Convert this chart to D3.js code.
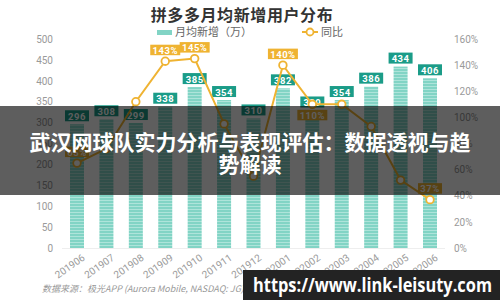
<!DOCTYPE html>
<html>
<head>
<meta charset="utf-8">
<script src="https://cdn.jsdelivr.net/npm/d3@7"></script>
<style>
  body { margin: 0; background: #fff; }
  svg { display: block; font-family: "Noto Sans CJK SC", "Noto Sans", sans-serif; }
</style>
</head>
<body>
<script>
// chart data
var months = ["201906","201907","201908","201909","201910","201911","201912","202001","202002","202003","202004","202005","202006"];
var newUsers = [296, 308, 299, 338, 385, 354, 310, 382, 329, 354, 386, 434, 406];
var yoy = [65, 76, 112, 143, 145, 95, 55, 140, 110, 110, 93, 52, 37];
var yoyShown = ["201906","201909","201910","202001","202002","202006"];
var leftTicks = [0, 50, 100, 150, 200, 250, 300, 350, 400, 450, 500];
var rightTicks = [0, 20, 40, 60, 80, 100, 120, 140, 160];

var W = 500, H = 300;
var teal = "#1b9c88", gold = "#efb332";

var svg = d3.select("body").append("svg")
    .attr("width", W)
    .attr("height", H);

// stripey bar fill
var defs = svg.append("defs");
var pat = defs.append("pattern")
    .attr("id", "stripes")
    .attr("patternUnits", "userSpaceOnUse")
    .attr("width", 4).attr("height", 3);
pat.append("rect").attr("width", 4).attr("height", 3).attr("fill", "#82d4c5");
pat.append("rect").attr("y", 2).attr("width", 4).attr("height", 1).attr("fill", "#aee4da");

// scales
var x = d3.scalePoint().domain(months).range([77, 430]);
var y = d3.scaleLinear().domain([0, 500]).range([248, 39]);
var y2 = d3.scaleLinear().domain([0, 160]).range([248, 39]);
var barW = 14;

// title + legend
svg.append("text")
    .attr("x", 242).attr("y", 21)
    .attr("text-anchor", "middle")
    .attr("font-size", 16).attr("font-weight", "bold")
    .attr("letter-spacing", 0.6)
    .attr("fill", "#333")
    .text("拼多多月均新增用户分布");

svg.append("rect").attr("x", 157).attr("y", 30).attr("width", 15).attr("height", 5).attr("fill", "#82d4c5");
svg.append("text").attr("x", 175).attr("y", 36).attr("font-size", 11).attr("fill", "#666").text("月均新增（万）");
svg.append("line").attr("x1", 302).attr("x2", 318).attr("y1", 32).attr("y2", 32)
    .attr("stroke", gold).attr("stroke-width", 2);
svg.append("circle").attr("cx", 310).attr("cy", 32).attr("r", 3.5)
    .attr("fill", "#fff").attr("stroke", gold).attr("stroke-width", 1.8);
svg.append("text").attr("x", 321).attr("y", 36).attr("font-size", 11).attr("fill", "#666").text("同比");

// axes
var axL = svg.append("g")
    .attr("transform", "translate(56,0)")
    .call(d3.axisLeft(y).tickValues(leftTicks).tickSize(0).tickPadding(3));
var axR = svg.append("g")
    .attr("transform", "translate(451,0)")
    .call(d3.axisRight(y2).tickValues(rightTicks).tickSize(0).tickPadding(3)
      .tickFormat(function(d){ return d + "%"; }));
var axB = svg.append("g")
    .attr("transform", "translate(0,248)")
    .call(d3.axisBottom(x).tickSize(0).tickPadding(6));
[axL, axR, axB].forEach(function(g) {
  g.select(".domain").remove();
  g.selectAll("text").attr("fill", "#9a9a9a").attr("font-size", 10)
    .attr("font-family", "Roboto, 'Noto Sans', sans-serif");
});
svg.append("line").attr("x1", 62).attr("x2", 445).attr("y1", 248.5).attr("y2", 248.5)
    .attr("stroke", "#eee");
axB.selectAll("text")
    .attr("text-anchor", "end")
    .attr("dy", "0.3em")
    .attr("transform", "translate(3,4) rotate(-35)");

// bars
svg.selectAll(".bar")
    .data(newUsers)
  .enter().append("rect")
    .attr("class", "bar")
    .attr("x", function(d, i) { return x(months[i]) - barW / 2; })
    .attr("y", function(d) { return y(d); })
    .attr("width", barW)
    .attr("height", function(d) { return y(0) - y(d); })
    .attr("fill", "url(#stripes)");

// bar labels
var bl = svg.selectAll(".blab")
    .data(newUsers)
  .enter().append("g")
    .attr("transform", function(d, i) { return "translate(" + x(months[i]) + "," + (y(d) - 8) + ")"; });
bl.append("rect").attr("x", -12).attr("y", -6).attr("width", 24).attr("height", 11).attr("fill", teal);
bl.append("text").attr("text-anchor", "middle").attr("y", 3.5)
    .attr("font-size", 9.5).attr("font-weight", "bold").attr("fill", "#fff")
    .attr("font-family", "Roboto, sans-serif")
    .attr("letter-spacing", 0.5)
    .text(function(d) { return d; });

// yoy line
var line = d3.line()
    .x(function(d, i) { return x(months[i]); })
    .y(function(d) { return y2(d); });
svg.append("path")
    .datum(yoy)
    .attr("d", line)
    .attr("fill", "none")
    .attr("stroke", gold)
    .attr("stroke-width", 2);
svg.selectAll(".pt")
    .data(yoy)
  .enter().append("circle")
    .attr("cx", function(d, i) { return x(months[i]); })
    .attr("cy", function(d) { return y2(d); })
    .attr("r", 3.8)
    .attr("fill", "#fff")
    .attr("stroke", gold)
    .attr("stroke-width", 1.8);

// yoy labels (above the point unless it hits the bar label)
var pl = svg.selectAll(".plab")
    .data(yoy.map(function(v, i) { return {m: months[i], v: v, b: newUsers[i]}; })
      .filter(function(d) { return yoyShown.indexOf(d.m) >= 0; }))
  .enter().append("g")
    .attr("transform", function(d) {
      var py = y2(d.v) - 11;
      if (Math.abs(py - (y(d.b) - 8)) < 12) py = y2(d.v) + 11;
      return "translate(" + x(d.m) + "," + py + ")";
    });
pl.append("rect")
    .attr("x", function(d) { return d.v >= 100 ? -15 : -12; })
    .attr("y", -5.5)
    .attr("width", function(d) { return d.v >= 100 ? 30 : 24; })
    .attr("height", 10.5)
    .attr("fill", gold);
pl.append("text").attr("text-anchor", "middle").attr("y", 3.5)
    .attr("font-size", 9.5).attr("font-weight", "bold").attr("fill", "#fff")
    .attr("font-family", "Roboto, sans-serif")
    .attr("letter-spacing", 0.5)
    .text(function(d) { return d.v + "%"; });

// source
svg.append("text")
    .attr("x", 42).attr("y", 292)
    .attr("font-size", 9).attr("font-style", "italic").attr("fill", "#999")
    .text("数据来源：极光APP (Aurora Mobile, NASDAQ: JG) 2020");

// dark overlay band with headline
svg.append("rect").attr("x", 0).attr("y", 106).attr("width", W).attr("height", 89)
    .attr("fill", "rgba(0,0,0,0.63)");
svg.append("text")
    .attr("x", 250).attr("y", 150)
    .attr("text-anchor", "middle")
    .attr("font-size", 21).attr("font-weight", "bold").attr("fill", "#fff")
    .text("武汉网球队实力分析与表现评估：数据透视与趋");
svg.append("text")
    .attr("x", 250).attr("y", 172)
    .attr("text-anchor", "middle")
    .attr("font-size", 21).attr("font-weight", "bold").attr("fill", "#fff")
    .text("势解读");

// watermark
svg.append("rect").attr("x", 243).attr("y", 270).attr("width", 257).attr("height", 30).attr("fill", "#232323");
svg.append("text")
    .attr("x", 253).attr("y", 292)
    .attr("font-size", 20).attr("font-weight", "bold").attr("fill", "#fff")
    .attr("font-family", "'Open Sans', 'DejaVu Sans', sans-serif")
    .attr("textLength", 239).attr("lengthAdjust", "spacingAndGlyphs")
    .text("https://www.link-leisuty.com");
</script>
</body>
</html>
